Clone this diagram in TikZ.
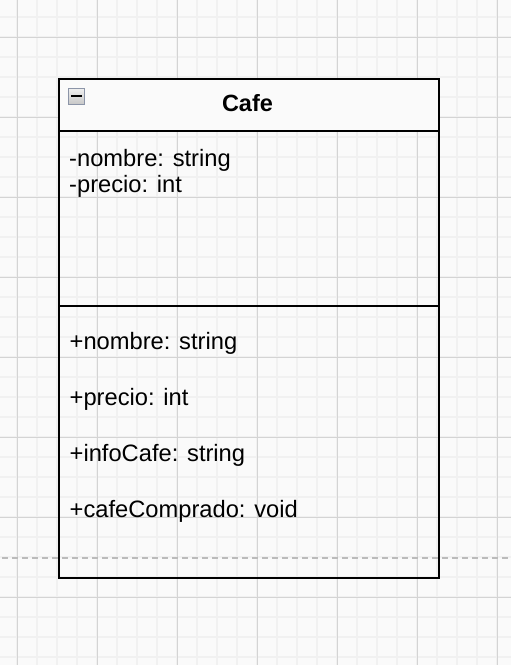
\documentclass[tikz,border=0pt]{standalone}
\usepackage{fontspec}
\setmainfont{Liberation Sans}
\usetikzlibrary{calc}
\begin{document}
\begin{tikzpicture}[x=1pt,y=-1pt,
  minorgrid/.style={draw=gminor,line width=1.6pt},
  majorgrid/.style={draw=gmajor,line width=1pt},
  part/.style={draw=black,line width=2pt,anchor=north west,inner sep=0pt,minimum width=380pt},
  txt/.style={anchor=base west,inner sep=0pt,font=\fontsize{23.7}{27}\selectfont},
]
\definecolor{bg}{HTML}{FAFAFA}
\definecolor{gminor}{HTML}{F1F1F1}
\definecolor{gmajor}{HTML}{D4D4D4}
\definecolor{hdr}{HTML}{FAFAFA}
\definecolor{icb}{HTML}{8C95A8}
\definecolor{dashc}{HTML}{BBBBBB}
\useasboundingbox (0,0) rectangle (511,665);
\fill[bg] (0,0) rectangle (511,665);
% minor grid
\foreach \i in {17,37,...,517} {\draw[minorgrid] (\i,0) -- (\i,665);}
\foreach \j in {17,37,...,665} {\draw[minorgrid] (0,\j) -- (511,\j);}
% major grid
\foreach \i in {17,97,...,511} {\draw[majorgrid] (\i,0) -- (\i,665);}
\foreach \j in {37,117,...,665} {\draw[majorgrid] (0,\j) -- (511,\j);}
% dashed line
\coordinate (dl) at (2,557.5);
\coordinate (dr) at (511,557.5);
\draw[dashc,line width=2pt,dash pattern=on 6pt off 4pt] (dl) -- (dr);
% class box
\node[part,fill=hdr,minimum height=52pt] (head) at (58,78) {};
\node[part,minimum height=175pt] (attrs) at (58,130) {};
\node[part,minimum height=272pt] (ops) at (58,305) {};
\node[font=\fontsize{23.5}{27}\selectfont\bfseries,anchor=base,inner sep=0pt] (title) at (247.5,111.5) {Cafe};
% collapse icon
\node[draw=icb,line width=1.6pt,minimum size=16pt,inner sep=0pt,anchor=north west,
      top color=white!94!black,bottom color=white!78!black] (icon) at (67.5,87.5) {};
\fill[black] ($(icon.center)+(-5.5,-1.1)$) rectangle ($(icon.center)+(5.5,1.1)$);
% texts
\node[txt] (a1) at (69,166) {-nombre: string};
\node[txt] (a2) at (69,192.5) {-precio: int};
\node[txt] (o1) at (69.5,349) {+nombre: string};
\node[txt] (o2) at (69.5,405) {+precio: int};
\node[txt] (o3) at (69.5,461) {+infoCafe: string};
\node[txt] (o4) at (69.5,517) {+cafeComprado: void};
\end{tikzpicture}
\end{document}
